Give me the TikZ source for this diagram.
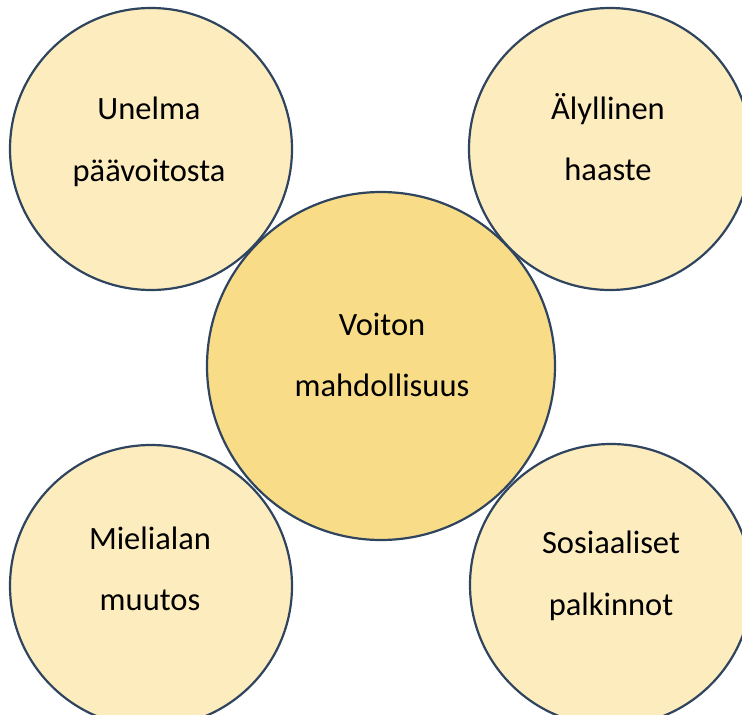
\documentclass[tikz,border=0pt]{standalone}
\usepackage{fontspec}
\setmainfont{Carlito}
\usepackage{xcolor}
\usepackage{tikz}
\definecolor{rim}{RGB}{47, 68, 94}
\definecolor{paleyellow}{RGB}{252, 236, 190}
\definecolor{goldyellow}{RGB}{248, 220, 136}

\begin{document}
\begin{tikzpicture}[x=1pt,y=1pt,yscale=-1,xscale=1,
  bubble/.style={circle, draw=rim, line width=2.2pt, fill=paleyellow, minimum size=282pt, inner sep=0pt},
  hub/.style={bubble, fill=goldyellow, minimum size=348pt},
  caption/.style={align=center, inner sep=0pt, font=\fontsize{32.5}{61.5}\selectfont}]
\useasboundingbox (0,0) rectangle (742,715);

%Outer circles
\node [bubble] (dream) at (151,149) {};
\node [bubble] (challenge) at (610,149) {};
\node [bubble] (mood) at (151,586) {};
\node [bubble] (social) at (611,585) {};
%Center circle
\node [hub] (chance) at (381,366) {};

% Text Node
\node [caption] (dreamtxt) at (149,142) {Unelma\\päävoitosta};
% Text Node
\node [caption] (challengetxt) at (608,137) {Älyllinen\\haaste};
% Text Node
\node [caption] (chancetxt) at (382,355) {Voiton\\mahdollisuus};
% Text Node
\node [caption] (moodtxt) at (150,569) {Mielialan\\muutos};
% Text Node
\node [caption] (socialtxt) at (611,576) {Sosiaaliset\\palkinnot};

\end{tikzpicture}
\end{document}
